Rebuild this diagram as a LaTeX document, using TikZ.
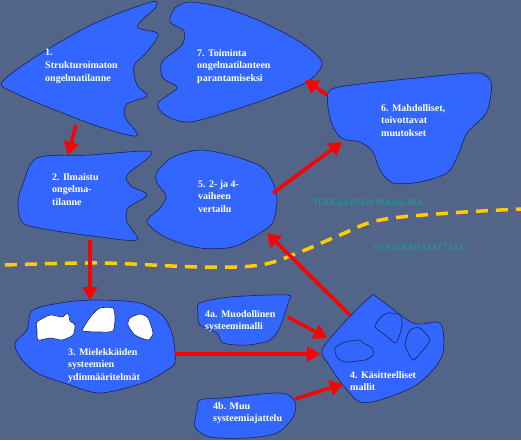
\documentclass[tikz,border=0pt]{standalone}
\usepackage{fontspec}
\setmainfont{Liberation Serif}
\usetikzlibrary{arrows.meta}
\definecolor{slate}{RGB}{82,100,136}
\definecolor{bluefill}{RGB}{51,102,255}
\definecolor{navy}{RGB}{25,35,85}
\definecolor{yel}{RGB}{255,204,0}
\definecolor{tealtext}{RGB}{20,160,170}
\tikzset{
  blob/.style={fill=bluefill,draw=navy,line width=.6pt},
  hole/.style={fill=white,draw=navy,line width=.6pt},
  txt/.style={anchor=north west,inner sep=0pt,align=left,text=white,
    font=\fontsize{10}{12.7}\selectfont\bfseries},
  world/.style={text=tealtext,inner sep=0pt,font=\fontsize{9.7}{11}\selectfont},
  arr/.style={draw=red,line width=3.5pt,-{Triangle[length=13pt,width=15pt]}}
}
\begin{document}
\begin{tikzpicture}[x=1pt,y=-1pt]
\fill[slate] (0,0) rectangle (521,440);
\useasboundingbox (0,0) rectangle (521,440);
\draw[yel,line width=3.5pt,dash pattern=on 12pt off 8pt] plot[smooth,tension=.6] coordinates
  {(5,265)(100,263)(200,267)(260,265)(300,252)(340,235)(380,220)(450,213)(521,209)};
\draw[blob] plot[smooth cycle,tension=.5] coordinates
  {(2,82)(40,54)(95,23)(151,2)(156,7)(142,20)(138,28)(158,34)(147,52)(134,66)(137,85)(147,96)(127,104)(125,117)(137,136)(100,127)(50,108)(15,93)};
\draw[blob] plot[smooth cycle,tension=.5] coordinates
  {(175,8)(190,2)(225,8)(262,22)(300,42)(322,62)(310,80)(282,93)(240,108)(190,122)(165,115)(158,103)(177,88)(163,78)(162,62)(182,45)(184,31)(170,22)};
\draw[blob] plot[smooth cycle,tension=.5] coordinates
  {(330,90)(360,84)(427,77)(478,73)(491,82)(490,100)(485,115)(467,133)(458,155)(447,173)(420,182)(393,183)(380,170)(373,152)(360,142)(343,139)(333,127)(328,107)};
\draw[blob] plot[smooth cycle,tension=.5] coordinates
  {(37,158)(90,155)(147,151)(148,158)(127,175)(131,186)(147,195)(128,208)(127,222)(137,240)(100,237)(50,230)(23,223)(18,203)(22,187)};
\draw[blob] plot[smooth cycle,tension=.5] coordinates
  {(157,172)(173,157)(200,150)(233,156)(262,167)(273,183)(277,200)(273,222)(260,233)(233,247)(200,248)(167,238)(147,222)(160,208)(166,196)(157,183)};
\draw[blob] plot[smooth cycle,tension=.5] coordinates
  {(33,310)(67,302)(100,300)(140,303)(163,316)(173,337)(175,362)(167,370)(143,383)(100,393)(67,384)(37,373)(20,357)(15,343)(27,330)};
\draw[hole] plot[smooth cycle,tension=.4] coordinates
  {(37,322)(50,315)(62,317)(68,313)(70,321)(75,325)(73,335)(62,340)(50,338)(38,340)(37,330)};
\draw[hole] plot[smooth cycle,tension=.4] coordinates
  {(85,325)(92,315)(100,308)(113,308)(115,318)(113,331)(100,332)(83,331)};
\draw[hole] plot[smooth cycle,tension=.4] coordinates
  {(130,318)(140,314)(148,318)(153,333)(148,340)(135,335)(128,325)};
\draw[blob] plot[smooth cycle,tension=.5] coordinates
  {(200,303)(230,297)(287,295)(288,303)(280,327)(270,340)(247,345)(223,343)(217,333)(200,325)(198,313)};
\draw[blob] plot[smooth cycle,tension=.5] coordinates
  {(200,400)(223,398)(280,393)(295,402)(293,417)(277,433)(247,438)(210,437)(195,427)(197,410)};
\draw[blob] plot[smooth cycle,tension=.5] coordinates
  {(322,350)(340,327)(370,297)(378,298)(413,323)(437,322)(443,330)(443,353)(433,370)(413,387)(380,400)(360,402)(347,390)(337,377)(327,362)};
\draw[blob] plot[smooth cycle,tension=.4] coordinates
  {(335,348)(345,342)(360,340)(363,343)(372,348)(373,355)(365,360)(345,362)(337,357)};
\draw[blob] plot[smooth cycle,tension=.4] coordinates
  {(380,318)(388,313)(400,315)(402,325)(398,340)(395,343)(385,335)(375,327)};
\draw[blob] plot[smooth cycle,tension=.4] coordinates
  {(410,330)(420,328)(430,340)(423,350)(413,360)(405,345)};
\node[txt] (t1) at (45,49) {1.\\Strukturoimaton\\ongelmatilanne};
\node[txt] (t7) at (197,49) {7. Toiminta\\ongelmatilanteen\\parantamiseksi};
\node[txt] (t6) at (381,104) {6. Mahdolliset,\\toivottavat\\muutokset};
\node[txt] (t2) at (52,173) {2. Ilmaistu\\ongelma-\\tilanne};
\node[txt] (t5) at (198,180) {5. 2- ja 4-\\vaiheen\\vertailu};
\node[txt] (t3) at (68,348) {3. Mielekkäiden\\systeemien\\ydinmääritelmät};
\node[txt] (t4a) at (205,310) {4a. Muodollinen\\systeemimalli};
\node[txt] (t4b) at (213,402) {4b. Muu\\systeemiajattelu};
\node[txt] (t4) at (350,371) {4. Käsitteelliset\\mallit};
\node[world] (real) at (368,202) {TODELLINEN MAAILMA};
\node[world] (sys) at (420,247) {SYSTEEMIAJATTELU};
\coordinate (s1) at (76,125);  \coordinate (e2) at (68,155);
\coordinate (s2) at (90,240);  \coordinate (e3) at (90,300);
\coordinate (s3) at (175,354); \coordinate (e4) at (320,354);
\coordinate (s4a) at (288,317); \coordinate (e4a) at (327,338);
\coordinate (s4b) at (295,399); \coordinate (e4b) at (343,384);
\coordinate (s4) at (350,315); \coordinate (e5) at (267,233);
\coordinate (s5) at (273,193); \coordinate (e6) at (342,142);
\coordinate (s6) at (327,95);  \coordinate (e7) at (305,80);
\draw[arr] (s1)--(e2);
\draw[arr] (s2)--(e3);
\draw[arr] (s3)--(e4);
\draw[arr] (s4a)--(e4a);
\draw[arr] (s4b)--(e4b);
\draw[arr] (s4)--(e5);
\draw[arr] (s5)--(e6);
\draw[arr] (s6)--(e7);
\end{tikzpicture}
\end{document}
